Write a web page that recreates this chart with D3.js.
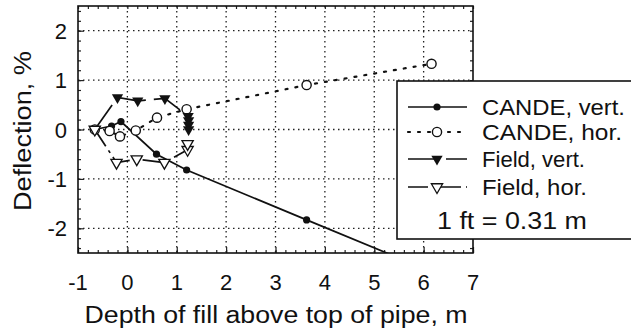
<!DOCTYPE html>
<html><head><meta charset="utf-8">
<script src="https://cdn.jsdelivr.net/npm/d3@7"></script>
<style>
html,body{margin:0;padding:0;background:#fff;}
svg text{font-family:"Liberation Sans",Arial,sans-serif;fill:#111;}
</style></head>
<body>
<svg id="chart" width="631" height="336"></svg>
<script>
// ---- data ----
const xTicks = [-1,0,1,2,3,4,5,6,7];
const yTicks = [2,1,0,-1,-2];
const candeVertX = [-0.66,-0.32,-0.13,0.59,1.2,3.63,6.1];
const candeVertY = [0,0.07,0.16,-0.5,-0.82,-1.83,-2.85];
const candeHorX = [-0.66,-0.36,-0.15,0.17,0.6,1.2,3.63,6.16];
const candeHorY = [0,-0.03,-0.14,-0.02,0.24,0.41,0.9,1.33];
const fieldVertX = [-0.66,-0.2,0.21,0.76,1.23,1.24,1.24,1.24];
const fieldVertY = [0,0.65,0.58,0.63,0.27,0.18,0.09,0.0];
const fieldHorX = [-0.66,-0.22,0.19,0.75,1.22,1.22];
const fieldHorY = [0,-0.67,-0.6,-0.67,-0.41,-0.29];
const seriesNames = ["CANDE, vert.","CANDE, hor.","Field, vert.","Field, hor."];
const xTitle = "Depth of fill above top of pipe, m";
const yTitle = "Deflection, %";
const noteText = "1 ft = 0.31 m";

const svg = d3.select("#chart");
const L=78,R=473,T=6,B=253;
const x = d3.scaleLinear().domain([-1,7]).range([L,R]);
const y = d3.scaleLinear().domain([-2.5,2.5]).range([B,T]);

svg.append("defs").append("clipPath").attr("id","clip")
  .append("rect").attr("x",L).attr("y",T).attr("width",R-L).attr("height",B-T);

// grid
const grid = svg.append("g");
grid.selectAll(".gx").data(d3.range(0,7)).enter().append("line")
  .attr("x1",d=>x(d)).attr("x2",d=>x(d)).attr("y1",T).attr("y2",B)
  .attr("stroke","#222").attr("stroke-width",1.3).attr("stroke-dasharray","1.5,3.5");
grid.selectAll(".gy").data(yTicks).enter().append("line")
  .attr("y1",d=>y(d)).attr("y2",d=>y(d)).attr("x1",L).attr("x2",R)
  .attr("stroke","#222").attr("stroke-width",1.3).attr("stroke-dasharray","1.5,3.5");

// axes with inner ticks
const minorX = d3.range(-1,7.001,0.2);
const minorY = d3.range(-2.4,2.401,0.2);
svg.append("g").attr("transform",`translate(0,${B})`)
  .call(d3.axisBottom(x).tickValues(minorX).tickSize(-3).tickFormat(""))
  .call(g=>g.select(".domain").remove());
svg.append("g").attr("transform",`translate(0,${T})`)
  .call(d3.axisTop(x).tickValues(minorX).tickSize(-3).tickFormat(""))
  .call(g=>g.select(".domain").remove());
svg.append("g").attr("transform",`translate(${L},0)`)
  .call(d3.axisLeft(y).tickValues(minorY).tickSize(-3).tickFormat(""))
  .call(g=>g.select(".domain").remove());
svg.append("g").attr("transform",`translate(${R},0)`)
  .call(d3.axisRight(y).tickValues(minorY).tickSize(-3).tickFormat(""))
  .call(g=>g.select(".domain").remove());
// major ticks
svg.append("g").attr("transform",`translate(0,${B})`)
  .call(d3.axisBottom(x).tickValues(xTicks).tickSize(-6).tickFormat(""))
  .call(g=>g.select(".domain").remove());
svg.append("g").attr("transform",`translate(${L},0)`)
  .call(d3.axisLeft(y).tickValues(yTicks).tickSize(-6).tickFormat(""))
  .call(g=>g.select(".domain").remove());
svg.selectAll(".tick line").attr("stroke","#222").attr("stroke-width",1.2);

svg.append("rect").attr("x",L).attr("y",T).attr("width",R-L).attr("height",B-T)
  .attr("fill","none").attr("stroke","#111").attr("stroke-width",1.6);

// tick labels
svg.append("g").selectAll("text").data(xTicks).enter().append("text")
  .attr("x",d=>x(d)).attr("y",290).attr("text-anchor","middle")
  .attr("font-size",22).text(d=>d);
svg.append("g").selectAll("text").data(yTicks).enter().append("text")
  .attr("x",67).attr("y",d=>y(d)+8).attr("text-anchor","end")
  .attr("font-size",22).text(d=>d);

svg.append("text").attr("x",276).attr("y",323).attr("text-anchor","middle")
  .attr("font-size",23).attr("textLength",383).attr("lengthAdjust","spacingAndGlyphs").text(xTitle);
svg.append("text").attr("transform","translate(31,131) rotate(-90)").attr("text-anchor","middle")
  .attr("font-size",23).attr("textLength",160).attr("lengthAdjust","spacingAndGlyphs").text(yTitle);

// series
const styles = [
  {xs:candeVertX, ys:candeVertY, dash:null, marker:"fcircle"},
  {xs:candeHorX, ys:candeHorY, dash:"2,8", marker:"ocircle"},
  {xs:fieldVertX, ys:fieldVertY, dash:"30,8", marker:"ftri"},
  {xs:fieldHorX, ys:fieldHorY, dash:"20,5,3,5", marker:"otri"}
];
const line = d3.line().x(d=>x(d[0])).y(d=>y(d[1]));
const plot = svg.append("g").attr("clip-path","url(#clip)");
const triPath = d3.symbol().type(d3.symbolTriangle).size(55);
function drawMarker(g, type, cx, cy){
  if(type==="fcircle") g.append("circle").attr("cx",cx).attr("cy",cy).attr("r",3.6).attr("fill","#111");
  else if(type==="ocircle") g.append("circle").attr("cx",cx).attr("cy",cy).attr("r",4.6).attr("fill","#fff").attr("stroke","#111").attr("stroke-width",1.4);
  else if(type==="ftri") g.append("path").attr("d",triPath()).attr("transform",`translate(${cx},${cy}) rotate(180)`).attr("fill","#111");
  else g.append("path").attr("d",triPath()).attr("transform",`translate(${cx},${cy}) rotate(180)`).attr("fill","#fff").attr("stroke","#111").attr("stroke-width",1.3);
}
styles.forEach(s=>{
  const pts = s.xs.map((v,i)=>[v,s.ys[i]]);
  plot.append("path").datum(pts).attr("d",line).attr("fill","none")
    .attr("stroke","#111").attr("stroke-width",s.marker==="ocircle"?2.2:1.7)
    .attr("stroke-dasharray",s.dash).attr("stroke-linecap",s.marker==="ocircle"?"round":"butt");
});
styles.forEach(s=>{
  s.xs.forEach((v,i)=>{
    if(y(s.ys[i])<=B && y(s.ys[i])>=T) drawMarker(plot,s.marker,x(v),y(s.ys[i]));
  });
});

// legend
const lg = svg.append("g");
lg.append("rect").attr("x",397).attr("y",81).attr("width",260).attr("height",158)
  .attr("fill","#fff").attr("stroke","#111").attr("stroke-width",1.6);
const lys = [107,132,159,187];
const lw = [143,140,103,105];
styles.forEach((s,i)=>{
  lg.append("line").attr("x1",408).attr("x2",467).attr("y1",lys[i]).attr("y2",lys[i])
    .attr("stroke","#111").attr("stroke-width",s.marker==="ocircle"?2.2:1.7)
    .attr("stroke-dasharray",s.dash).attr("stroke-linecap",s.marker==="ocircle"?"round":"butt");
  drawMarker(lg,s.marker,437,lys[i]);
  lg.append("text").attr("x",482).attr("y",lys[i]+8).attr("font-size",22)
    .attr("textLength",lw[i]).attr("lengthAdjust","spacingAndGlyphs").text(seriesNames[i]);
});
lg.append("text").attr("x",437).attr("y",229).attr("font-size",23)
  .attr("textLength",150).attr("lengthAdjust","spacingAndGlyphs").text(noteText);
</script>
</body></html>
